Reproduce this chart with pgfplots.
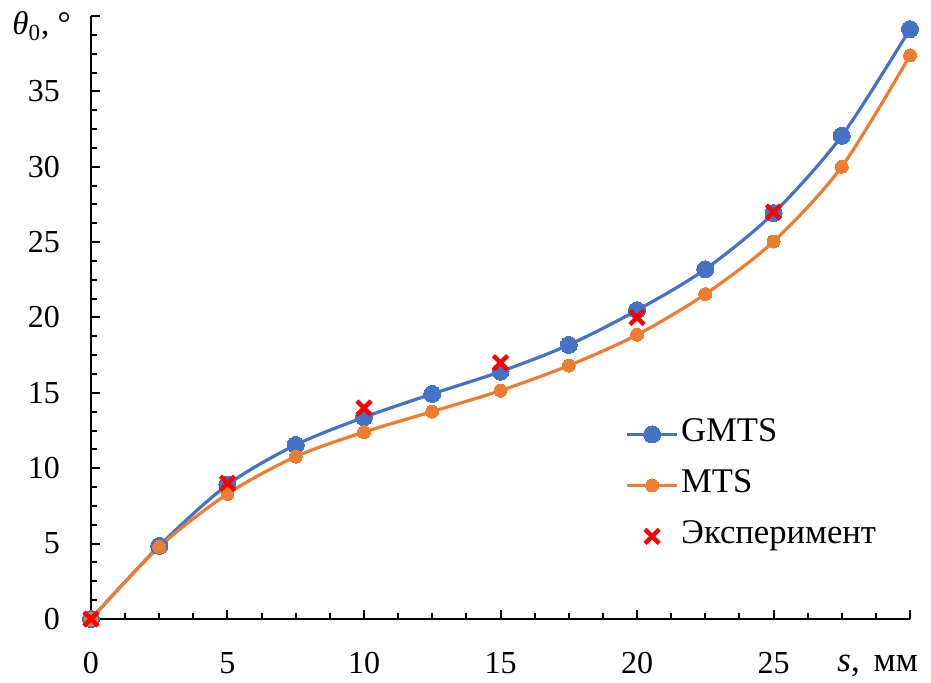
\documentclass[border=0pt]{standalone}
\usepackage{fontspec}
\setmainfont{Liberation Serif}
\usepackage{pgfplots}
\pgfplotsset{compat=1.18}
\definecolor{gmts}{HTML}{4472C4}
\definecolor{mts}{HTML}{ED7D31}

\pgfplotstableread{
s    theta
0    0
2.5  4.85
5    8.9
7.5  11.55
10   13.38
12.5 14.93
15   16.41
17.5 18.18
20   20.48
22.5 23.2
25   26.92
27.5 32.05
30   39.13
}\gmtsdata
\pgfplotstableread{
s    theta
0    0
2.5  4.78
5    8.3
7.5  10.77
10   12.4
12.5 13.76
15   15.15
17.5 16.81
20   18.85
22.5 21.55
25   25.04
27.5 30.0
30   37.38
}\mtsdata
\pgfplotstableread{
s    theta
0    0
5    9
10   14
15   17
20   20
25   27
}\expdata

\begin{document}
\fontsize{16}{19}\selectfont
\begin{tikzpicture}
\useasboundingbox (-45.5pt,-32pt) rectangle (420pt,309.5pt);
\begin{axis}[
  at={(0,0)}, anchor=south west,
  scale only axis, width=409.5pt, height=301.5pt,
  xmin=0, xmax=30, ymin=0, ymax=40,
  clip=false,
  axis x line*=bottom, axis y line*=left,
  axis line style={line width=1.1pt, black},
  xtick={0,5,...,30}, xticklabels={0,5,10,15,20,25,},
  ytick={0,5,...,40}, yticklabels={0,5,10,15,20,25,30,35,},
  minor tick num=3,
  tick align=inside,
  major tick length=4.5pt, minor tick length=3pt,
  tick style={black, line width=1pt},
  /pgf/number format/assume math mode=true,
  tick label style={font=\rmfamily\fontsize{16}{19}\selectfont},
  xticklabel style={yshift=-11pt},
  yticklabel style={xshift=-10pt},
  xlabel={\textit{s},\hspace{0.4em}мм},
  ylabel={\textit{θ}\textsubscript{0}, °},
  every axis x label/.style={at={(axis description cs:0,0)}, anchor=base west,
    inner sep=0pt, xshift=373pt, yshift=-26.5pt, font=\rmfamily\fontsize{17.5}{20}\selectfont},
  every axis y label/.style={at={(axis description cs:0,1)}, anchor=base west,
    inner sep=0pt, xshift=-39.5pt, yshift=-9.5pt, font=\rmfamily\fontsize{16.5}{19}\selectfont},
  legend cell align=left,
  legend image code/.code={%
    \draw[mark repeat=2,mark phase=2] plot coordinates {(0pt,0pt) (12.5pt,0pt) (25pt,0pt)};},
  legend style={draw=none, fill=none, inner sep=0pt, outer sep=0pt,
    at={(axis cs:19.58,13.37)}, anchor=north west,
    font=\rmfamily\fontsize{17.3}{20}\selectfont, row sep=8.5pt,
    nodes={inner sep=1.25pt, text height=11pt, text depth=3.5pt}},
]
\addplot[gmts, line width=1.6pt, smooth, tension=0.5,
  mark=*, mark size=4.25pt, mark options={line width=0pt, fill=gmts}]
  table[x=s, y=theta] {\gmtsdata};
\addlegendentry{GMTS}
\addplot[mts, line width=1.6pt, smooth, tension=0.5,
  mark=*, mark size=3.25pt, mark options={line width=0pt, fill=mts}]
  table[x=s, y=theta] {\mtsdata};
\addlegendentry{MTS}
\addplot[only marks, red, mark=x, mark size=5pt, mark options={line width=2.2pt}]
  table[x=s, y=theta] {\expdata};
\addlegendentry{Эксперимент}
\end{axis}
\end{tikzpicture}
\end{document}
